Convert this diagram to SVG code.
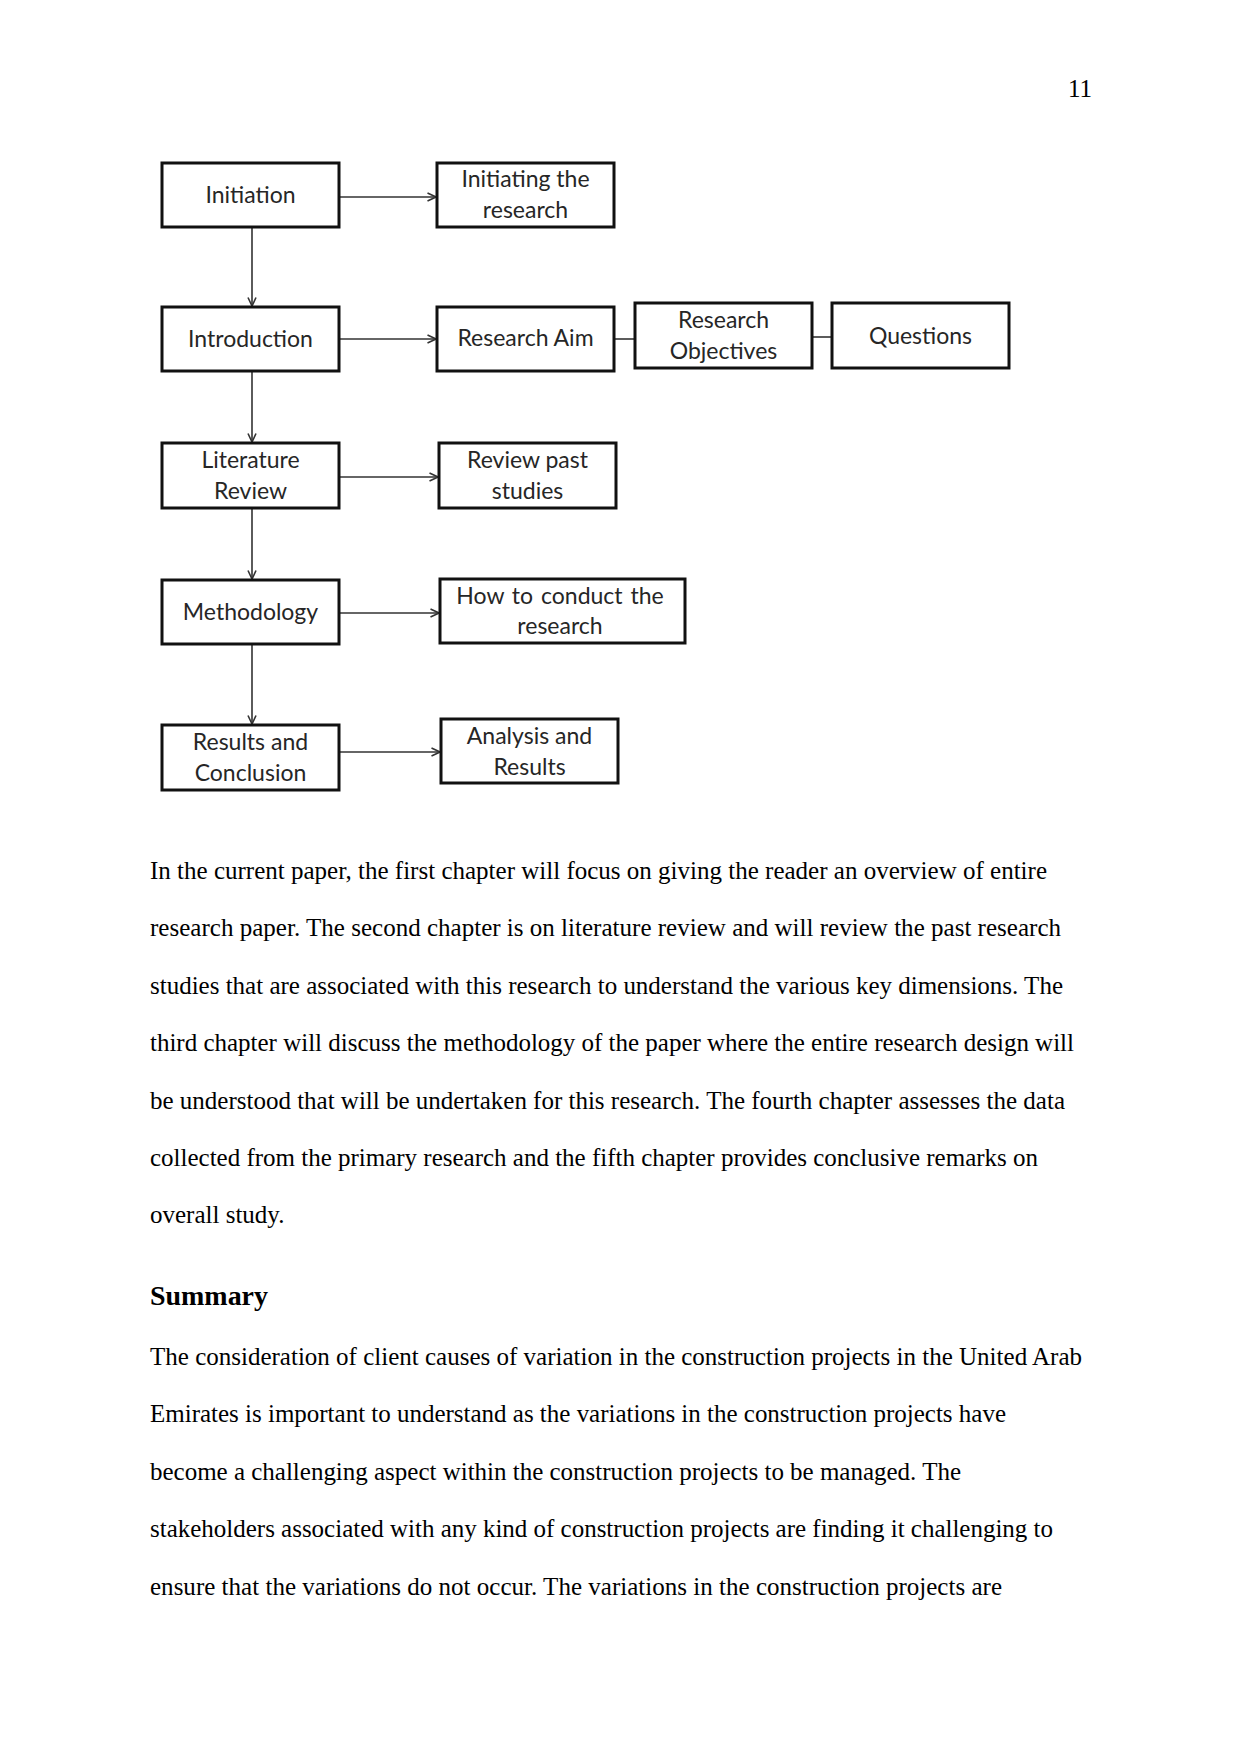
<svg xmlns="http://www.w3.org/2000/svg" width="1241" height="1754" viewBox="0 0 1241 1754">
<defs>
<style>
.box{fill:#fff;stroke:#111;stroke-width:3}
.lbl{font-family:Lato,"Liberation Sans",sans-serif;font-size:23px;fill:#262626;text-anchor:middle}
.con{fill:none;stroke:#333;stroke-width:1.6}
.body{font-family:"Liberation Serif","Times New Roman",serif;font-size:25px;fill:#000}
.head{font-family:"Liberation Serif","Times New Roman",serif;font-size:27px;font-weight:bold;fill:#000}
</style>
<marker id="arr" viewBox="0 0 10 10" refX="9.5" refY="5" markerWidth="10" markerHeight="10" markerUnits="userSpaceOnUse" orient="auto">
<path d="M1,1 L9.5,5 L1,9" fill="none" stroke="#333" stroke-width="1.6"/>
</marker>
</defs>
<rect width="1241" height="1754" fill="#fff"/>
<text class="body" x="1092" y="97" text-anchor="end">11</text>

<g id="connectors">
<line class="con" x1="339" y1="197" x2="436" y2="197" marker-end="url(#arr)"/>
<line class="con" x1="252" y1="227" x2="252" y2="306" marker-end="url(#arr)"/>
<line class="con" x1="339" y1="339" x2="436" y2="339" marker-end="url(#arr)"/>
<line class="con" x1="614" y1="339" x2="635" y2="339"/>
<line class="con" x1="812" y1="337" x2="832" y2="337"/>
<line class="con" x1="252" y1="371" x2="252" y2="442" marker-end="url(#arr)"/>
<line class="con" x1="339" y1="477" x2="438" y2="477" marker-end="url(#arr)"/>
<line class="con" x1="252" y1="508" x2="252" y2="579" marker-end="url(#arr)"/>
<line class="con" x1="339" y1="613" x2="439" y2="613" marker-end="url(#arr)"/>
<line class="con" x1="252" y1="644" x2="252" y2="724" marker-end="url(#arr)"/>
<line class="con" x1="339" y1="752" x2="440" y2="752" marker-end="url(#arr)"/>
</g>

<g id="initiation"><rect class="box" x="162" y="163" width="177" height="64"/><text class="lbl" x="250.5" y="203">Initiation</text></g>
<g id="initiating"><rect class="box" x="437" y="163" width="177" height="64"/><text class="lbl" x="525.5" y="187">Initiating the</text><text class="lbl" x="525.5" y="218">research</text></g>
<g id="introduction"><rect class="box" x="162" y="307" width="177" height="64"/><text class="lbl" x="250.5" y="347">Introduction</text></g>
<g id="research-aim"><rect class="box" x="437" y="307" width="177" height="64"/><text class="lbl" x="525.5" y="346">Research Aim</text></g>
<g id="research-objectives"><rect class="box" x="635" y="303" width="177" height="65"/><text class="lbl" x="723.5" y="328">Research</text><text class="lbl" x="723.5" y="359">Objectives</text></g>
<g id="questions"><rect class="box" x="832" y="303" width="177" height="65"/><text class="lbl" x="920.5" y="344">Questions</text></g>
<g id="literature-review"><rect class="box" x="162" y="443" width="177" height="65"/><text class="lbl" x="250.5" y="468">Literature</text><text class="lbl" x="250.5" y="499">Review</text></g>
<g id="review-past"><rect class="box" x="439" y="443" width="177" height="65"/><text class="lbl" x="527.5" y="468">Review past</text><text class="lbl" x="527.5" y="499">studies</text></g>
<g id="methodology"><rect class="box" x="162" y="580" width="177" height="64"/><text class="lbl" x="250.5" y="620">Methodology</text></g>
<g id="how-to-conduct"><rect class="box" x="440" y="579" width="245" height="64"/><text class="lbl" x="560" y="604" word-spacing="2">How to conduct the</text><text class="lbl" x="560" y="634">research</text></g>
<g id="results-conclusion"><rect class="box" x="162" y="725" width="177" height="65"/><text class="lbl" x="250.5" y="750">Results and</text><text class="lbl" x="250.5" y="781">Conclusion</text></g>
<g id="analysis-results"><rect class="box" x="441" y="719" width="177" height="64"/><text class="lbl" x="529.5" y="744">Analysis and</text><text class="lbl" x="529.5" y="775">Results</text></g>

<g id="paragraph1" class="body">
<text x="150" y="879" textLength="897" lengthAdjust="spacing">In the current paper, the first chapter will focus on giving the reader an overview of entire</text>
<text x="150" y="936" textLength="911" lengthAdjust="spacing">research paper. The second chapter is on literature review and will review the past research</text>
<text x="150" y="994" textLength="913" lengthAdjust="spacing">studies that are associated with this research to understand the various key dimensions. The</text>
<text x="150" y="1051" textLength="924" lengthAdjust="spacing">third chapter will discuss the methodology of the paper where the entire research design will</text>
<text x="150" y="1109" textLength="915" lengthAdjust="spacing">be understood that will be undertaken for this research. The fourth chapter assesses the data</text>
<text x="150" y="1166" textLength="888" lengthAdjust="spacing">collected from the primary research and the fifth chapter provides conclusive remarks on</text>
<text x="150" y="1223">overall study.</text>
</g>
<text class="head" x="150" y="1305" textLength="118" lengthAdjust="spacingAndGlyphs">Summary</text>
<g id="paragraph2" class="body">
<text x="150" y="1365" textLength="932" lengthAdjust="spacing">The consideration of client causes of variation in the construction projects in the United Arab</text>
<text x="150" y="1422" textLength="856" lengthAdjust="spacing">Emirates is important to understand as the variations in the construction projects have</text>
<text x="150" y="1480" textLength="811" lengthAdjust="spacing">become a challenging aspect within the construction projects to be managed. The</text>
<text x="150" y="1537" textLength="903" lengthAdjust="spacing">stakeholders associated with any kind of construction projects are finding it challenging to</text>
<text x="150" y="1595" textLength="852" lengthAdjust="spacing">ensure that the variations do not occur. The variations in the construction projects are</text>
</g>
</svg>
